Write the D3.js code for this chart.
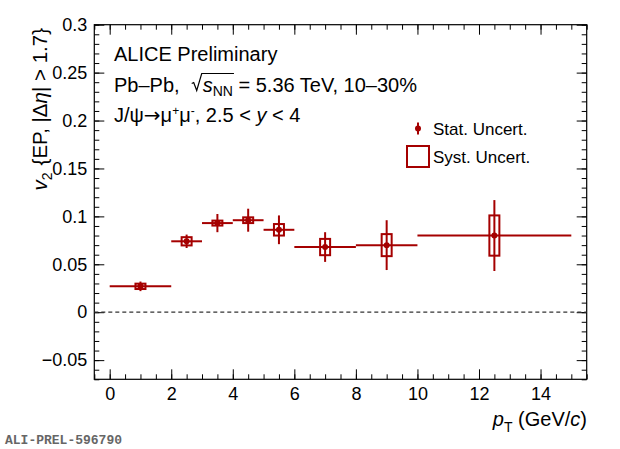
<!DOCTYPE html>
<html>
<head>
<meta charset="utf-8">
<script src="https://cdn.jsdelivr.net/npm/d3@7"></script>
<style>
  body { margin: 0; background: #fff; }
  text { font-family: "Liberation Sans", Arial, Helvetica, sans-serif; }
</style>
</head>
<body>
<div id="chart"></div>
<script>
// pT bins (GeV/c) and J/psi v2 values
var ptLow   = [0, 2, 3, 4, 5, 6, 8, 10];
var ptHigh  = [2, 3, 4, 5, 6, 8, 10, 15];
var ptMean  = [1.0, 2.5, 3.5, 4.5, 5.5, 7.0, 9.0, 12.5];
var v2Val   = [0.027, 0.074, 0.093, 0.096, 0.086, 0.068, 0.070, 0.080];
var statErr = [0.005, 0.007, 0.0095, 0.012, 0.015, 0.0155, 0.026, 0.037];
var systErr = [0.0028, 0.0043, 0.0026, 0.003, 0.006, 0.0085, 0.0115, 0.021];

var xTicks = [0, 2, 4, 6, 8, 10, 12, 14];
var yTicks = [-0.05, 0, 0.05, 0.1, 0.15, 0.2, 0.25, 0.3];
var yTickLabels = ["\u22120.05", "0", "0.05", "0.1", "0.15", "0.2", "0.25", "0.3"];

var W = 620, H = 449;
var margin = {top: 24.7, right: 33.3, bottom: 69.7, left: 94.3};
var width = W - margin.left - margin.right,
    height = H - margin.top - margin.bottom;
var red = "#a50000";
var boxHalf = 5; // px, half width of the syst. box

var svg = d3.select("#chart")
  .append("svg")
    .attr("width", W)
    .attr("height", H)
  .append("g")
    .attr("transform", "translate(" + margin.left + "," + margin.top + ")");

var x = d3.scaleLinear().domain([-0.5, 15.5]).range([0, width]);
var y = d3.scaleLinear().domain([-0.07, 0.3]).range([height, 0]);

var xMinor = d3.range(-0.5, 15.51, 0.5);
var yMinor = d3.range(-7, 31).map(function(d) { return d / 100; });

// minor ticks, all four sides, pointing in
svg.append("g").attr("transform", "translate(0," + height + ")")
  .call(d3.axisBottom(x).tickValues(xMinor).tickSize(-5).tickFormat(""));
svg.append("g")
  .call(d3.axisTop(x).tickValues(xMinor).tickSize(-5).tickFormat(""));
svg.append("g")
  .call(d3.axisLeft(y).tickValues(yMinor).tickSize(-5).tickFormat(""));
svg.append("g").attr("transform", "translate(" + width + ",0)")
  .call(d3.axisRight(y).tickValues(yMinor).tickSize(-5).tickFormat(""));

// major ticks
var xAx = svg.append("g").attr("transform", "translate(0," + height + ")")
  .call(d3.axisBottom(x).tickValues(xTicks).tickSize(-10).tickPadding(8));
svg.append("g")
  .call(d3.axisTop(x).tickValues(xTicks).tickSize(-10).tickFormat(""));
var yAx = svg.append("g")
  .call(d3.axisLeft(y).tickValues(yTicks).tickSize(-10).tickPadding(7)
    .tickFormat(function(d, i) { return yTickLabels[i]; }));
svg.append("g").attr("transform", "translate(" + width + ",0)")
  .call(d3.axisRight(y).tickValues(yTicks).tickSize(-10).tickFormat(""));

svg.selectAll(".domain").remove();
svg.selectAll(".tick line").attr("stroke", "#000").attr("stroke-width", 1);
svg.selectAll(".tick text")
  .attr("fill", "#000")
  .style("font-family", "'Liberation Sans', Arial, sans-serif")
  .style("font-size", "18px");

// frame
svg.append("rect")
  .attr("x", 0).attr("y", 0)
  .attr("width", width).attr("height", height)
  .attr("fill", "none").attr("stroke", "#000").attr("stroke-width", 1.2);

// zero line
svg.append("line")
  .attr("x1", 0).attr("x2", width)
  .attr("y1", y(0)).attr("y2", y(0))
  .attr("stroke", "#333").attr("stroke-width", 1.2)
  .attr("stroke-dasharray", "4,3");

var idx = d3.range(ptMean.length);

// systematic boxes
svg.selectAll(".syst").data(idx).enter().append("rect")
  .attr("class", "syst")
  .attr("x", function(i) { return x(ptMean[i]) - boxHalf; })
  .attr("width", boxHalf * 2)
  .attr("y", function(i) { return y(v2Val[i] + systErr[i]); })
  .attr("height", function(i) { return y(v2Val[i] - systErr[i]) - y(v2Val[i] + systErr[i]); })
  .attr("fill", "none").attr("stroke", red).attr("stroke-width", 2);

// horizontal bin bars
svg.selectAll(".xbar").data(idx).enter().append("line")
  .attr("x1", function(i) { return x(ptLow[i]); })
  .attr("x2", function(i) { return x(ptHigh[i]); })
  .attr("y1", function(i) { return y(v2Val[i]); })
  .attr("y2", function(i) { return y(v2Val[i]); })
  .attr("stroke", red).attr("stroke-width", 2);

// stat. error bars
svg.selectAll(".stat").data(idx).enter().append("line")
  .attr("x1", function(i) { return x(ptMean[i]); })
  .attr("x2", function(i) { return x(ptMean[i]); })
  .attr("y1", function(i) { return y(v2Val[i] + statErr[i]); })
  .attr("y2", function(i) { return y(v2Val[i] - statErr[i]); })
  .attr("stroke", red).attr("stroke-width", 2);

svg.selectAll(".pt").data(idx).enter().append("circle")
  .attr("cx", function(i) { return x(ptMean[i]); })
  .attr("cy", function(i) { return y(v2Val[i]); })
  .attr("r", 3)
  .attr("fill", red);

// ---- texts (page coordinates)
var page = d3.select("#chart svg");

page.append("text")
  .attr("x", 114).attr("y", 61)
  .style("font-size", "20px")
  .text("ALICE Preliminary");

var l2 = page.append("text")
  .attr("x", 114).attr("y", 91.5)
  .style("font-size", "20px");
l2.append("tspan").text("Pb\u2013Pb,\u00a0\u00a0");
l2.append("tspan").attr("dx", 12).style("font-style", "italic").text("s");
l2.append("tspan").attr("dy", 4).style("font-size", "14px").text("NN");
l2.append("tspan").attr("dy", -4).text("\u00a0= 5.36 TeV, 10\u201330%");

// radical sign over s_NN
var n2 = l2.node();
var sStart = n2.getStartPositionOfChar(8).x;
var nnBox = n2.getExtentOfChar(10);
var nnEnd = nnBox.x + nnBox.width;
var by = 91.5;
page.append("path")
  .attr("d", "M" + (sStart - 11) + "," + (by - 8) +
             "L" + (sStart - 9) + "," + (by - 9) +
             "L" + (sStart - 6) + "," + (by - 1) +
             "L" + (sStart - 1) + "," + (by - 18) +
             "L" + (nnEnd + 1) + "," + (by - 18))
  .attr("fill", "none").attr("stroke", "#000").attr("stroke-width", 1.2);

var l3 = page.append("text")
  .attr("x", 114).attr("y", 122)
  .style("font-size", "20px");
l3.append("tspan").text("J/\u03c8");
l3.append("tspan").style("font-family", "'DejaVu Sans', sans-serif").text("\u2192");
l3.append("tspan").text("\u03bc");
l3.append("tspan").attr("dy", -7).style("font-size", "12px").text("+");
l3.append("tspan").attr("dy", 7).text("\u03bc");
l3.append("tspan").attr("dy", -7).style("font-size", "12px").text("-");
l3.append("tspan").attr("dy", 7).text(", 2.5 < ");
l3.append("tspan").style("font-style", "italic").text("y");
l3.append("tspan").text(" < 4");

// legend
page.append("line")
  .attr("x1", 418).attr("x2", 418).attr("y1", 122.5).attr("y2", 134.5)
  .attr("stroke", red).attr("stroke-width", 2);
page.append("circle").attr("cx", 418).attr("cy", 128.5).attr("r", 3).attr("fill", red);
page.append("text").attr("x", 433).attr("y", 134.5)
  .style("font-size", "17px").text("Stat. Uncert.");
page.append("rect")
  .attr("x", 407).attr("y", 146).attr("width", 22).attr("height", 21)
  .attr("fill", "none").attr("stroke", red).attr("stroke-width", 2);
page.append("text").attr("x", 433).attr("y", 162.5)
  .style("font-size", "17px").text("Syst. Uncert.");

// axis titles
var yl = page.append("text")
  .attr("transform", "translate(47,28) rotate(-90)")
  .attr("text-anchor", "end")
  .style("font-size", "20.5px");
yl.append("tspan").style("font-style", "italic").text("v");
yl.append("tspan").attr("dy", 5).style("font-size", "14px").text("2");
yl.append("tspan").attr("dy", -5).attr("dx", 7).text("{EP, |\u0394");
yl.append("tspan").style("font-style", "italic").text("\u03b7");
yl.append("tspan").text("| > 1.7}");

var xl = page.append("text")
  .attr("x", 587).attr("y", 426)
  .attr("text-anchor", "end")
  .style("font-size", "20px");
xl.append("tspan").style("font-style", "italic").text("p");
xl.append("tspan").attr("dy", 6).style("font-size", "14px").text("T");
xl.append("tspan").attr("dy", -6).text("\u00a0(GeV/");
xl.append("tspan").style("font-style", "italic").text("c");
xl.append("tspan").text(")");

page.append("text")
  .attr("x", 5).attr("y", 444)
  .style("font-family", "'Liberation Mono', 'DejaVu Sans Mono', monospace")
  .style("font-weight", "bold")
  .style("font-size", "13px")
  .attr("fill", "#666")
  .text("ALI-PREL-596790");
</script>
</body>
</html>
